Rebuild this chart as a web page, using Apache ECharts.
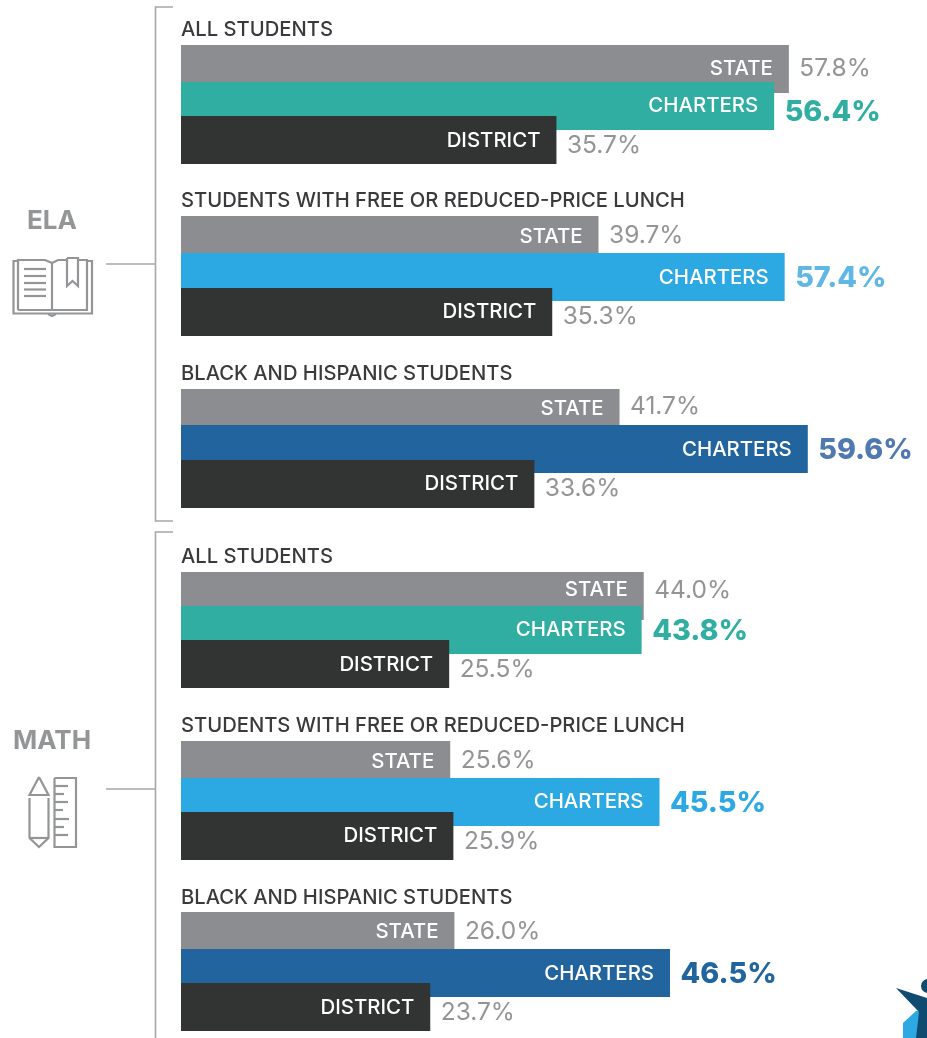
<!DOCTYPE html>
<html>
<head>
<meta charset="utf-8">
<style>html,body{margin:0;padding:0;background:#fff}#main{width:927px;height:1038px}</style>
<script src="https://cdn.jsdelivr.net/npm/echarts@6/dist/echarts.min.js"></script>
</head>
<body>
<div id="main"></div>
<script>
// data, one entry per block (ELA x3, then MATH x3)
const blockTitles = [
  'ALL STUDENTS', 'STUDENTS WITH FREE OR REDUCED-PRICE LUNCH', 'BLACK AND HISPANIC STUDENTS',
  'ALL STUDENTS', 'STUDENTS WITH FREE OR REDUCED-PRICE LUNCH', 'BLACK AND HISPANIC STUDENTS'
];
const rowNames = ['STATE', 'CHARTERS', 'DISTRICT'];
const stateValues = [57.8, 39.7, 41.7, 44.0, 25.6, 26.0];
const chartersValues = [56.4, 57.4, 59.6, 43.8, 45.5, 46.5];
const districtValues = [35.7, 35.3, 33.6, 25.5, 25.9, 23.7];

// colours
const barGrey = '#8c8d90';
const barDark = '#323333';
const valueGrey = '#939496';
const chartersBar = ['#30aea2', '#2ca9e3', '#22649d', '#30aea2', '#2ca9e3', '#22649d'];
const chartersText = ['#30aea2', '#5fb7e6', '#4f79b0', '#30aea2', '#2ca9e3', '#22649d'];

// layout, the source is hand placed so rows are not quite even
const blockTops = [45, 216, 389, 572, 741, 912];
const titleMiddles = [30, 201, 374, 557, 726, 898];
const rowNudge = [[0, 1.5, 0], [0, 1.5, 1], [0, 0.5, 0], [0, -1.5, -3], [0, 1.5, 0], [0, 1.5, 0]];
const nameDy = [[24, 24, 25], [21, 25, 24], [20, 25, 24], [18, 24, 25], [21, 24, 24], [20, 25, 25]];
const valueDy = [[24, 30, 30], [20, 25, 29], [18, 25, 29], [19, 25, 30], [20, 25, 30], [20, 25, 30]];
const barHeight = 48;
const fontName = 'Inter';
const fontValue = 'Inter';

let chart = echarts.init(document.getElementById('main'), null, { renderer: 'canvas' });

function barItem(block) {
  return function (params, api) {
    let row = api.value(1);
    let end = api.coord([api.value(0), row]);
    let start = api.coord([0, row]);
    let top = end[1] - barHeight / 2 + rowNudge[block][row];
    let isCharters = row === 1;
    let fill = isCharters ? chartersBar[block] : (row === 0 ? barGrey : barDark);
    return {
      type: 'group',
      children: [
        { type: 'rect', shape: { x: start[0], y: top, width: end[0] - start[0], height: barHeight }, style: { fill: fill } },
        {
          type: 'text',
          style: {
            text: rowNames[row], x: end[0] - 16, y: top + nameDy[block][row],
            align: 'right', verticalAlign: 'middle', fill: '#fff',
            fontFamily: fontName, fontSize: 20.4, fontWeight: 500
          }
        },
        {
          type: 'text',
          style: {
            text: api.value(0).toFixed(1) + '%', x: end[0] + 10.5, y: top + valueDy[block][row],
            align: 'left', verticalAlign: 'middle',
            fill: isCharters ? chartersText[block] : valueGrey,
            fontFamily: fontValue,
            fontSize: isCharters ? 28.7 : 24.5,
            fontWeight: isCharters ? 800 : 400
          }
        }
      ]
    };
  };
}

let grids = [], xAxes = [], yAxes = [], series = [];
blockTitles.forEach(function (t, i) {
  grids.push({ left: 181, width: 631, top: blockTops[i] + 6.25, height: 106.5 });
  xAxes.push({ type: 'value', gridIndex: i, min: 0, max: 60, show: false });
  yAxes.push({ type: 'category', gridIndex: i, data: rowNames, inverse: true, show: false });
  series.push({
    type: 'custom',
    xAxisIndex: i,
    yAxisIndex: i,
    clip: false,
    silent: true,
    encode: { x: 0, y: 1 },
    renderItem: barItem(i),
    data: [[stateValues[i], 0], [chartersValues[i], 1], [districtValues[i], 2]]
  });
});

// --- furniture: brackets, icons, side labels, logo ---
const lineGrey = '#a6a7a9';
const iconGrey = '#949597';
function line(points, color, width) {
  return { type: 'polyline', silent: true, shape: { points: points }, style: { stroke: color || iconGrey, lineWidth: width || 2.2, fill: null } };
}
function label(text, x, y, size, weight, color, align) {
  return {
    type: 'text', silent: true, x: x, y: y,
    style: { text: text, fontFamily: fontName, fontSize: size, fontWeight: weight, fill: color, align: align, verticalAlign: 'middle' }
  };
}

let graphics = [
  // brackets
  line([[173, 7], [155.5, 7], [155.5, 521], [173, 521]], lineGrey, 1.6),
  line([[173, 532], [155.5, 532], [155.5, 1038]], lineGrey, 1.6),
  line([[106, 264], [155, 264]], lineGrey, 1.4),
  line([[106, 789], [155, 789]], lineGrey, 1.4),
  label('ELA', 52, 221, 26, 700, iconGrey, 'center'),
  label('MATH', 52, 741, 26, 700, iconGrey, 'center'),
  // book
  line([[18, 261], [13.5, 261], [13.5, 313.5], [92, 313.5], [92, 261], [87, 261]]),
  line([[18, 310], [18, 260], [45, 260], [52, 263], [52, 310], [18, 310]]),
  line([[52, 263], [58, 260], [67, 260]]),
  line([[78, 260], [87, 260], [87, 310], [52, 310]]),
  line([[67, 258], [78, 258], [78, 286], [72.5, 281], [67, 286], [67, 258]]),
  line([[24, 269], [46, 269]]), line([[24, 276], [46, 276]]), line([[24, 283], [46, 283]]),
  line([[24, 289.5], [46, 289.5]]), line([[24, 296], [46, 296]]),
  line([[48, 314], [52, 316], [56, 314]]),
  // pencil and ruler
  line([[39, 777], [48.5, 795], [29.5, 795], [39, 777]]),
  line([[29.5, 798], [29.5, 838], [39, 847], [48.5, 838], [48.5, 798]]),
  line([[29.5, 838], [48.5, 838]]),
  line([[54.5, 778], [76, 778], [76, 847], [54.5, 847], [54.5, 778]]),
  line([[55, 786], [68, 786]]), line([[55, 794], [64, 794]]), line([[55, 802], [68, 802]]),
  line([[55, 810], [63, 810]]), line([[55, 819], [69, 819]]), line([[55, 827], [64, 827]]),
  line([[55, 835], [68, 835]]),
  // logo corner
  { type: 'polygon', silent: true, shape: { points: [[903, 1023], [916, 1011], [927, 1011], [927, 1038], [903, 1038]] }, style: { fill: '#2ca9e3' } },
  { type: 'polygon', silent: true, shape: { points: [[896, 988], [927, 998], [927, 1038], [916, 1038], [919, 1012]] }, style: { fill: '#0f4a70' } },
  { type: 'circle', silent: true, shape: { cx: 928, cy: 986, r: 7 }, style: { fill: '#0f4a70' } }
];
blockTitles.forEach(function (t, i) {
  graphics.push(label(t, 181, titleMiddles[i], 20.2, 500, '#3a3a3c', 'left'));
});

chart.setOption({
  backgroundColor: '#fff',
  animation: false,
  grid: grids,
  xAxis: xAxes,
  yAxis: yAxes,
  series: series,
  graphic: { elements: graphics }
});
</script>
</body>
</html>
